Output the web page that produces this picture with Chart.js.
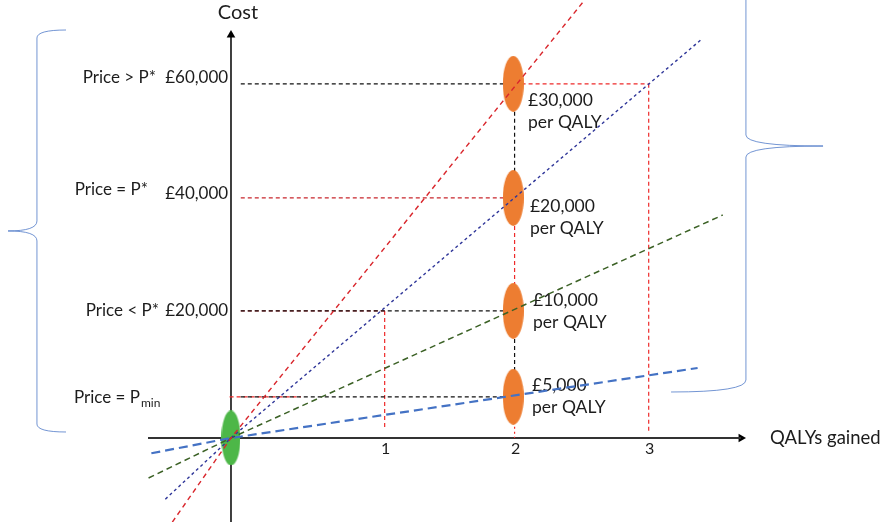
<!DOCTYPE html>
<html>
<head>
<meta charset="utf-8">
<script src="https://cdn.jsdelivr.net/npm/chart.js@4.4.0/dist/chart.umd.min.js"></script>
<style>
body { margin: 0; background: #fff; }
</style>
</head>
<body>
<canvas id="qalyChart" width="882" height="522"></canvas>
<script>
// QALYs on x, cost (GBP) on y
var qalyPos = [1.10, 2.03, 2.99];
var qalyTickLabels = ['1', '2', '3'];
var costLevels = [60200, 40800, 21600, 7000];
var costLabels = ['£60,000', '£40,000', '£20,000', ''];
var costLabelY = [61200, 41600, 21600, 6800];
var priceLabels = ['Price > P*', 'Price = P*', 'Price < P*', 'Price = P'];
var priceLabelX = [-0.537, -0.594, -0.515, -1.124];
var priceLabelY = [61200, 42200, 21600, 6800];

// ICER lines through the origin (cost per QALY)
var icerNames = ['£30,000', '£20,000', '£10,000', '£5,000'];
var icer30 = [{x: -0.42, y: -14300}, {x: 0, y: 0}, {x: 2.53, y: 74400}];
var icer20 = [{x: -0.47, y: -10400}, {x: 0, y: 0}, {x: 3.36, y: 67600}];
var icer10 = [{x: -0.59, y: -6800}, {x: 0, y: 0}, {x: 3.52, y: 37900}];
var icer5 = [{x: -0.57, y: -2600}, {x: 0, y: 0}, {x: 3.34, y: 11900}];
var icerLabelX = [2.126, 2.140, 2.162, 2.155];
var icerLabelY = [57450, 39440, 23460, 9000];

var canvas = document.getElementById('qalyChart');
var font = 'Lato';
var textColor = '#1c1c1c';

function makeEllipse(w, h, color) {
    var c = document.createElement('canvas');
    c.width = w;
    c.height = h;
    var g = c.getContext('2d');
    g.fillStyle = color;
    g.beginPath();
    g.ellipse(w / 2, h / 2, w / 2, h / 2, 0, 0, Math.PI * 2);
    g.fill();
    return c;
}

function seg(x0, y0, x1, y1, color, dash, width, order) {
    return {
        data: [{x: x0, y: y0}, {x: x1, y: y1}],
        showLine: true,
        borderColor: color,
        borderWidth: width,
        borderDash: dash,
        pointRadius: 0,
        order: order
    };
}

function icerLine(data, color, dash, width) {
    return {
        data: data,
        showLine: true,
        borderColor: color,
        borderWidth: width,
        borderDash: dash,
        pointRadius: 0,
        order: 1
    };
}

var black = '#111111';
var red = '#ee2a2a';
var gDash = [4, 3];
var datasets = [
    icerLine(icer30, '#d9262c', [5, 4], 1.4),
    icerLine(icer20, '#2f3699', [3, 3], 1.4),
    icerLine(icer10, '#3b6125', [6, 4], 1.5),
    icerLine(icer5, '#4472c4', [9, 5], 2.2),
    // ellipses
    {
        data: costLevels.map(function (c) { return {x: qalyPos[1] - 0.01, y: c}; }),
        pointStyle: makeEllipse(21, 56, '#ed7d31'),
        pointRadius: 10,
        order: 2
    },
    {
        data: [{x: 0, y: 0}],
        pointStyle: makeEllipse(19, 55, '#4db748'),
        pointRadius: 10,
        order: 2
    },
    // black guides
    seg(0.07, costLevels[0], qalyPos[1], costLevels[0], black, gDash, 1.2, 3),
    seg(qalyPos[1], costLevels[0], qalyPos[1], costLevels[1], black, gDash, 1.2, 3),
    seg(0.07, costLevels[2], qalyPos[1], costLevels[2], black, gDash, 1.2, 3),
    seg(qalyPos[1], costLevels[2], qalyPos[1], costLevels[3], black, gDash, 1.2, 3),
    seg(0.07, costLevels[3], qalyPos[1], costLevels[3], black, gDash, 1.2, 3),
    // red guides
    seg(qalyPos[1], costLevels[0], qalyPos[2], costLevels[0], red, gDash, 1.2, 3),
    seg(qalyPos[2], costLevels[0], qalyPos[2], 1000, red, gDash, 1.2, 3),
    seg(0.07, costLevels[1], qalyPos[1], costLevels[1], '#c8262c', gDash, 1.2, 3),
    seg(qalyPos[1], costLevels[1], qalyPos[1], costLevels[2], red, gDash, 1.2, 3),
    seg(0.07, costLevels[2], qalyPos[0], costLevels[2], '#c8262c', gDash, 1.2, 3),
    seg(qalyPos[0], costLevels[2], qalyPos[0], 1700, red, gDash, 1.2, 3),
    seg(-0.01, costLevels[3], 0.5, costLevels[3], red, gDash, 1.2, 3),
    seg(qalyPos[1], costLevels[3], qalyPos[1], 0, red, [2, 3], 1.2, 3),
    // axes
    seg(-0.594, 0, 3.65, 0, '#333333', [], 2, 4),
    seg(0, -14280, 0, 68500, '#000000', [], 1.5, 4),
    {
        data: [{x: 3.651, y: 0}],
        pointStyle: 'triangle',
        pointRotation: 90,
        pointRadius: 5,
        pointBackgroundColor: '#000',
        pointBorderColor: '#000',
        pointBorderWidth: 0,
        order: 4
    },
    {
        data: [{x: 0, y: 68500}],
        pointStyle: 'triangle',
        pointRotation: 0,
        pointRadius: 5,
        pointBackgroundColor: '#000',
        pointBorderColor: '#000',
        pointBorderWidth: 0,
        order: 4
    }
];

function text(ctx, s, x, y, align, size) {
    ctx.font = size + 'px ' + font;
    ctx.textAlign = align;
    ctx.textBaseline = 'middle';
    ctx.fillStyle = textColor;
    ctx.fillText(s, x, y);
}

var labelPlugin = {
    id: 'labels',
    beforeDatasetsDraw: function (chart) {
        var ctx = chart.ctx;
        var xs = chart.scales.x, ys = chart.scales.y;
        var px = function (v) { return xs.getPixelForValue(v); };
        var py = function (v) { return ys.getPixelForValue(v); };
        ctx.save();
        text(ctx, 'Cost', px(0.05), py(72400), 'center', 20);
        text(ctx, 'QALYs gained', px(3.858), py(0), 'left', 18.5);
        for (var i = 0; i < qalyPos.length; i++) {
            text(ctx, qalyTickLabels[i], px(qalyPos[i]) + 1, py(-1800), 'center', 16);
        }
        for (i = 0; i < costLevels.length; i++) {
            if (costLabels[i]) text(ctx, costLabels[i], px(-0.02), py(costLabelY[i]), 'right', 17);
            text(ctx, priceLabels[i], px(priceLabelX[i]), py(priceLabelY[i]), i == 3 ? 'left' : 'right', 17);
        }
        // subscript for P min
        ctx.font = '17px ' + font;
        var w = ctx.measureText(priceLabels[3]).width;
        text(ctx, 'min', px(priceLabelX[3]) + w + 1, py(priceLabelY[3]) + 5, 'left', 12);

        for (i = 0; i < icerNames.length; i++) {
            text(ctx, icerNames[i], px(icerLabelX[i]), py(icerLabelY[i]), 'left', 17.5);
            text(ctx, 'per QALY', px(icerLabelX[i]), py(icerLabelY[i]) + 22, 'left', 17.5);
        }

        // braces
        ctx.strokeStyle = 'rgba(68,114,196,0.75)';
        ctx.lineWidth = 1;
        var lx = px(-1.389), lTip = px(-1.596), lEnd = px(-1.181);
        var lTop = py(69350), lMid = py(35190), lBot = py(1020);
        ctx.beginPath();
        ctx.moveTo(lEnd, lTop);
        ctx.quadraticCurveTo(lx, lTop, lx, lTop + 8);
        ctx.lineTo(lx, lMid - 10);
        ctx.quadraticCurveTo(lx, lMid, lTip, lMid);
        ctx.quadraticCurveTo(lx, lMid, lx, lMid + 10);
        ctx.lineTo(lx, lBot - 8);
        ctx.quadraticCurveTo(lx, lBot, lEnd, lBot);
        ctx.stroke();

        var rx = px(3.686), rTip = px(4.238), rEnd = px(3.150);
        var rTop = py(75300), rMid = py(49630), rBot = py(9860);
        ctx.beginPath();
        ctx.moveTo(rx, rTop);
        ctx.lineTo(rx, rMid - 11);
        ctx.quadraticCurveTo(rx, rMid, rTip, rMid);
        ctx.quadraticCurveTo(rx, rMid, rx, rMid + 11);
        ctx.lineTo(rx, rBot);
        ctx.quadraticCurveTo(rx, rBot + 12, rEnd, py(7820));
        ctx.stroke();
        ctx.restore();
    }
};

var qalyChart = new Chart(canvas, {
    type: 'scatter',
    data: { datasets: datasets },
    options: {
        responsive: false,
        animation: false,
        events: [],
        layout: { padding: 0, autoPadding: false },
        plugins: {
            legend: { display: false },
            tooltip: { enabled: false }
        },
        scales: {
            x: { type: 'linear', display: false, min: -1.6535, max: 4.660 },
            y: { type: 'linear', display: false, min: -14280, max: 74450 }
        }
    },
    plugins: [labelPlugin]
});
</script>
</body>
</html>
